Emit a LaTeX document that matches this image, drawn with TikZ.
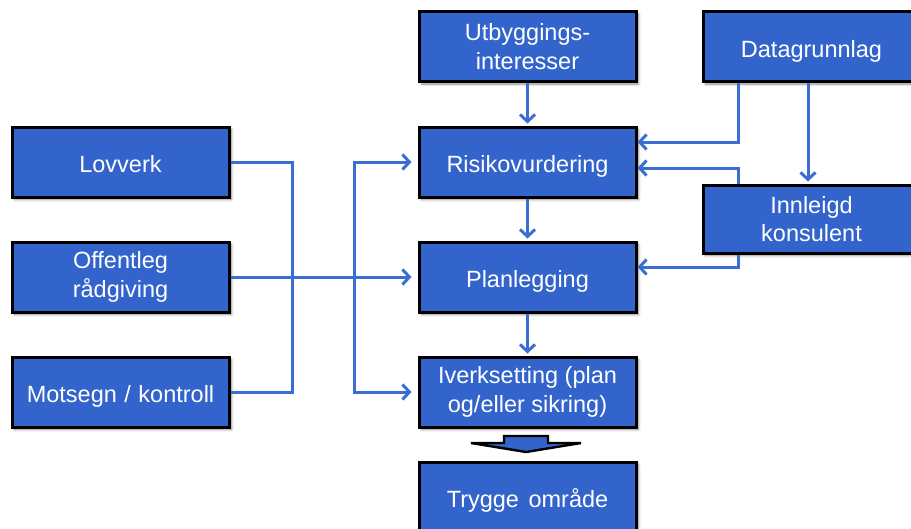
\documentclass[tikz,border=0pt]{standalone}
\usepackage{fontspec}
\setmainfont{Liberation Sans}
\usetikzlibrary{arrows.meta,shadows.blur}
\definecolor{boxblue}{RGB}{50,100,204}
\definecolor{lineblue}{RGB}{58,110,210}
\tikzset{
  box/.style={draw=black, line width=3pt, fill=boxblue, text=white,
    minimum width=217pt, minimum height=70pt, inner sep=0pt, align=center,
    font=\fontsize{23.5}{28.5}\selectfont,
    blur shadow={shadow xshift=2.5pt, shadow yshift=-2.5pt, shadow blur radius=2.5pt, shadow blur steps=6, shadow opacity=45}},
  oneline/.style={text height=21pt, text depth=0pt},
  plainline/.style={draw=lineblue, line width=3pt},
  conn/.style={plainline, -{Straight Barb[length=7pt, width=15pt]}, shorten >=2pt},
  connl/.style={conn, shorten >=6pt},
  blockarrow/.style={draw=black, line width=2.4pt, fill=boxblue, line join=miter}
}
\begin{document}
\begin{tikzpicture}[x=1pt, y=-1pt]
\useasboundingbox (0,0) rectangle (911,528);
\node[box] (ut) at (527.5,46.5) {Utbyggings-\\interesser};
\node[box, oneline] (data) at (811.5,46.5) {Datagrunnlag};
\node[box, oneline] (lov) at (120.5,162) {Lovverk};
\node[box, oneline] (risk) at (527.5,162) {Risikovurdering};
\node[box, minimum height=68pt] (inn) at (811.5,219) {Innleigd\\konsulent};
\node[box] (off) at (120.5,277) {Offentleg\\rådgiving};
\node[box, oneline] (plan) at (527.5,277) {Planlegging};
\node[box, oneline] (mot) at (120.5,392) {Motsegn\hspace{1pt} / \hspace{1pt}kontroll};
\node[box] (iver) at (527.5,392) {Iverksetting (plan\\og/eller sikring)};
\node[box, oneline] (trygg) at (527.5,497) {Trygge\hspace{3pt} område};
% block arrow between Iverksetting and Trygge område
\path[blockarrow] (504,436) -- (548,436) -- (548,443) -- (581,443) -- (526,452) -- (471,443) -- (504,443) -- cycle;
% centre column
\draw[conn] (ut) -- (risk);
\draw[conn] (risk) -- (plan);
\draw[conn] (plan) -- (iver);
% left side
\coordinate (busL) at (292,277);
\coordinate (busR) at (354,277);
\draw[plainline] (lov.east) -| (busL) |- (mot.east);
\draw[connl] (off.east) -- (plan.west);
\draw[connl] (busR) |- (risk.west);
\draw[connl] (busR) |- (iver.west);
% right side
\draw[conn, shorten >=0pt] ([xshift=-73.5pt]data.south) |- ([yshift=20pt]risk.east);
\draw[conn] ([xshift=-3.5pt]data.south) -- ([xshift=-3.5pt]inn.north);
\draw[conn, shorten >=0pt] ([xshift=-73.5pt]inn.north) |- ([yshift=-6pt]risk.east);
\draw[conn, shorten >=0pt] ([xshift=-73.5pt]inn.south) |- ([yshift=10pt]plan.east);
\end{tikzpicture}
\end{document}
